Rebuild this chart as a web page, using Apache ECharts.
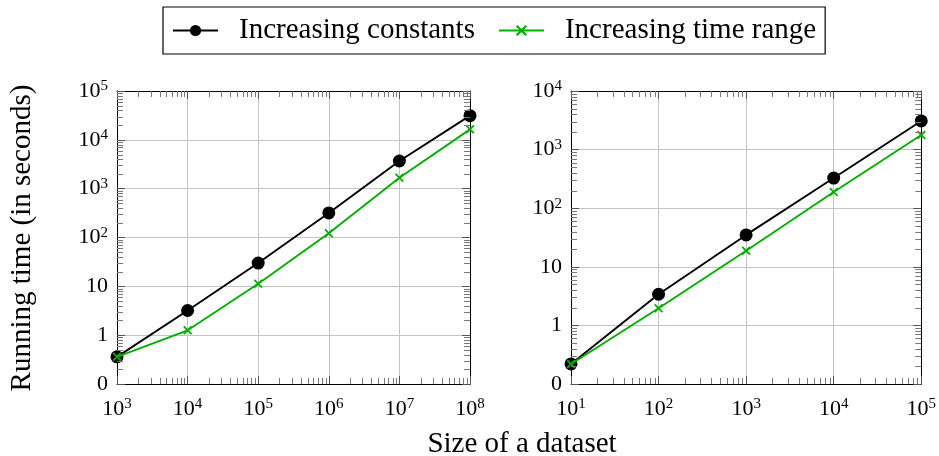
<!DOCTYPE html>
<html>
<head>
<meta charset="utf-8">
<script src="https://cdn.jsdelivr.net/npm/echarts@6/dist/echarts.min.js"></script>
<style>
  html, body { margin: 0; padding: 0; background: #fff; }
  #chart { width: 939px; height: 456px; }
</style>
</head>
<body>
<div id="chart"></div>
<script>
// Running-time measurements (seconds) against dataset size
const leftSizes = [1e3, 1e4, 1e5, 1e6, 1e7, 1e8];
const leftConstants = [0.36, 3.2, 30, 318, 3690, 31300];
const leftTimeRange = [0.36, 1.26, 11.3, 122, 1680, 16400];

const rightSizes = [1e1, 1e2, 1e3, 1e4, 1e5];
const rightConstants = [0.22, 3.4, 35, 327, 3080];
const rightTimeRange = [0.22, 1.96, 18.8, 189, 1775];

const seriesNames = ['Increasing constants', 'Increasing time range'];
const xTitle = 'Size of a dataset';
const yTitle = 'Running time (in seconds)';

const leftX = [1e3, 1e8], leftY = [0.1, 1e5];
const rightX = [1e1, 1e5], rightY = [0.1, 1e4];

const FONT = 'Liberation Serif';
const BLACK = '#000000';
const GREEN = '#00b000';
const CROSS = 'path://M0,1.4L1.4,0L5,3.6L8.6,0L10,1.4L6.4,5L10,8.6L8.6,10L5,6.4L1.4,10L0,8.6L3.6,5Z';

function pairs(xs, ys) { return xs.map((x, i) => [x, ys[i]]); }

// x ticks: always written as powers of ten
function xLabel(v) {
  const e = Math.round(Math.log10(v));
  return '{b|10}{s|' + e + '}';
}

// y ticks: the lowest decade is shown as 0, then 1, 10, 10^2, ...
function yLabel(v) {
  const e = Math.round(Math.log10(v));
  if (e === -1) return '{b|0}';
  if (e === 0) return '{b|1}';
  if (e === 1) return '{b|10}';
  return '{b|10}{s|' + e + '}';
}

const labelRich = {
  b: { fontSize: 22, fontFamily: FONT, color: '#000', lineHeight: 24 },
  s: { fontSize: 15, fontFamily: FONT, color: '#000', verticalAlign: 'top', lineHeight: 24, padding: [0, 0, 10, 0] }
};

function mainAxis(gridIndex, range, pos, margin, fmt) {
  return {
    type: 'log', logBase: 10, gridIndex, position: pos,
    min: range[0], max: range[1],
    axisLine: { show: true, onZero: false, lineStyle: { color: '#000', width: 1 } },
    axisTick: { show: true, inside: true, length: 8, lineStyle: { color: '#555' } },
    splitLine: { show: true, lineStyle: { color: '#c4c4c4', width: 1 } },
    axisLabel: {
      show: true, margin, formatter: fmt, rich: labelRich,
      showMinLabel: true, showMaxLabel: true, hideOverlap: false
    }
  };
}

function mirrorAxis(gridIndex, range, pos) {
  return {
    type: 'log', logBase: 10, gridIndex, position: pos,
    min: range[0], max: range[1],
    axisLine: { show: true, onZero: false, lineStyle: { color: '#000', width: 1 } },
    axisTick: { show: true, inside: true, length: 8, lineStyle: { color: '#555' } },
    splitLine: { show: false },
    axisLabel: { show: false }
  };
}

function lineSeries(name, xi, yi, data, isCross) {
  return {
    name, type: 'line', xAxisIndex: xi, yAxisIndex: yi, data,
    symbol: isCross ? CROSS : 'circle',
    symbolSize: isCross ? 9 : 13,
    lineStyle: { color: isCross ? GREEN : BLACK, width: 1.9 },
    itemStyle: { color: isCross ? GREEN : BLACK },
    z: isCross ? 4 : 3,
    animation: false
  };
}

const chart = echarts.init(document.getElementById('chart'), null, { renderer: 'canvas' });

const option = {
  backgroundColor: '#ffffff',
  animation: false,
  legend: {
    data: seriesNames,
    left: 163, top: 7,
    padding: [9, 9, 9, 9],
    itemGap: 23,
    itemWidth: 45, itemHeight: 14,
    borderColor: '#000', borderWidth: 1.2,
    textStyle: { fontFamily: FONT, fontSize: 29, color: '#000', padding: [0, 0, 0, 16] }
  },
  grid: [
    { left: 117, top: 91, width: 353, height: 293 },
    { left: 571, top: 91, width: 352, height: 293 }
  ],
  xAxis: [
    mainAxis(0, leftX, 'bottom', 13, xLabel),
    mirrorAxis(0, leftX, 'top'),
    mainAxis(1, rightX, 'bottom', 13, xLabel),
    mirrorAxis(1, rightX, 'top')
  ],
  yAxis: [
    mainAxis(0, leftY, 'left', 9, yLabel),
    mirrorAxis(0, leftY, 'right'),
    mainAxis(1, rightY, 'left', 9, yLabel),
    mirrorAxis(1, rightY, 'right')
  ],
  series: [
    lineSeries(seriesNames[0], 0, 0, pairs(leftSizes, leftConstants), false),
    lineSeries(seriesNames[1], 0, 0, pairs(leftSizes, leftTimeRange), true),
    lineSeries(seriesNames[0], 2, 2, pairs(rightSizes, rightConstants), false),
    lineSeries(seriesNames[1], 2, 2, pairs(rightSizes, rightTimeRange), true)
  ]
};
chart.setOption(option);

// Minor log ticks (2..9 within each decade) on all four sides of each plot
function minorTicks(xIdx, yIdx, xr, yr) {
  const els = [];
  const px = v => chart.convertToPixel({ xAxisIndex: xIdx }, v);
  const py = v => chart.convertToPixel({ yAxisIndex: yIdx }, v);
  const x0 = px(xr[0]), x1 = px(xr[1]);
  const y0 = py(yr[0]), y1 = py(yr[1]);
  const len = 6;
  const style = { stroke: '#777', lineWidth: 1 };
  for (let e = Math.round(Math.log10(xr[0])); e < Math.round(Math.log10(xr[1])); e++) {
    for (let m = 2; m <= 9; m++) {
      const x = Math.round(px(m * Math.pow(10, e))) + 0.5;
      els.push({ type: 'line', shape: { x1: x, y1: y0, x2: x, y2: y0 - len }, style, silent: true, z: 5 });
      els.push({ type: 'line', shape: { x1: x, y1: y1, x2: x, y2: y1 + len }, style, silent: true, z: 5 });
    }
  }
  for (let e = Math.round(Math.log10(yr[0])); e < Math.round(Math.log10(yr[1])); e++) {
    for (let m = 2; m <= 9; m++) {
      const y = Math.round(py(m * Math.pow(10, e))) + 0.5;
      els.push({ type: 'line', shape: { x1: x0, y1: y, x2: x0 + len, y2: y }, style, silent: true, z: 5 });
      els.push({ type: 'line', shape: { x1: x1, y1: y, x2: x1 - len, y2: y }, style, silent: true, z: 5 });
    }
  }
  return els;
}

const graphics = []
  .concat(minorTicks(0, 0, leftX, leftY))
  .concat(minorTicks(2, 2, rightX, rightY));

graphics.push({
  type: 'text', x: 522, y: 444,
  style: { text: xTitle, fontFamily: FONT, fontSize: 29, fill: '#000', align: 'center', verticalAlign: 'middle' }
});
graphics.push({
  type: 'text', x: 22, y: 238, rotation: Math.PI / 2,
  style: { text: yTitle, fontFamily: FONT, fontSize: 29, fill: '#000', align: 'center', verticalAlign: 'middle' }
});

chart.setOption({ graphic: graphics });
</script>
</body>
</html>
